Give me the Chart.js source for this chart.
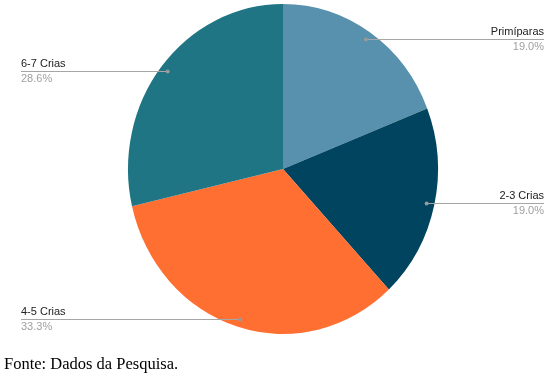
<!DOCTYPE html>
<html>
<head>
<meta charset="utf-8">
<script src="https://cdn.jsdelivr.net/npm/chart.js@4"></script>
<style>
  html, body { margin: 0; padding: 0; background: #fff; }
  #wrap { position: relative; width: 555px; height: 375px; }
  #fonte { position: absolute; left: 4px; top: 354px; font-family: "Liberation Serif", "Times New Roman", serif; font-size: 16.5px; color: #000; white-space: nowrap; }
</style>
</head>
<body>
<div id="wrap">
  <canvas id="c" width="555" height="375"></canvas>
  <div id="fonte">Fonte: Dados da Pesquisa.</div>
</div>
<script>
const categories = ["Primíparas", "2-3 Crias", "4-5 Crias", "6-7 Crias"];
const percentages = [19.0, 19.0, 33.3, 28.6];
const percentLabels = ["19.0%", "19.0%", "33.3%", "28.6%"];
const sliceColors = ["#5891AD", "#00445F", "#FF6F31", "#1F7583"];

const SY = 165 / 155;

const stretchPlugin = {
  id: 'stretch',
  beforeDatasetsDraw(chart) {
    const arc = chart.getDatasetMeta(0).data[0];
    const ctx = chart.ctx;
    ctx.save();
    ctx.translate(arc.x, arc.y);
    ctx.scale(1, SY);
    ctx.translate(-arc.x, -arc.y);
  },
  afterDatasetsDraw(chart) {
    chart.ctx.restore();
  }
};

const labelPlugin = {
  id: 'leaderLabels',
  afterDraw(chart) {
    const ctx = chart.ctx;
    const meta = chart.getDatasetMeta(0);
    ctx.save();
    meta.data.forEach((arc, i) => {
      const mid = (arc.startAngle + arc.endAngle) / 2;
      const R = arc.outerRadius * 0.95;
      const dx = arc.x + R * Math.cos(mid);
      const dy = arc.y + R * SY * Math.sin(mid);
      const right = Math.cos(mid) > 0;
      const lx = right ? 544 : 21;
      ctx.strokeStyle = '#a6a6a6';
      ctx.lineWidth = 1;
      ctx.beginPath();
      ctx.moveTo(dx, Math.round(dy) + 0.5);
      ctx.lineTo(lx, Math.round(dy) + 0.5);
      ctx.stroke();
      ctx.fillStyle = '#999999';
      ctx.beginPath();
      ctx.arc(dx, Math.round(dy) + 0.5, 2, 0, Math.PI * 2);
      ctx.fill();
      ctx.font = '11px "Liberation Sans", Arial, sans-serif';
      ctx.textAlign = right ? 'right' : 'left';
      ctx.textBaseline = 'middle';
      ctx.fillStyle = '#222222';
      ctx.fillText(categories[i], lx, Math.round(dy) - 7);
      ctx.fillStyle = '#a0a0a0';
      ctx.fillText(percentLabels[i], lx, Math.round(dy) + 7.5);
    });
    ctx.restore();
  }
};

new Chart(document.getElementById('c'), {
  type: 'pie',
  data: {
    labels: categories,
    datasets: [{
      data: percentages,
      backgroundColor: sliceColors,
      borderWidth: 0
    }]
  },
  options: {
    responsive: false,
    animation: false,
    layout: { padding: { left: 128, right: 117, top: 14, bottom: 51 } },
    plugins: {
      legend: { display: false },
      tooltip: { enabled: false }
    }
  },
  plugins: [stretchPlugin, labelPlugin]
});
</script>
</body>
</html>
